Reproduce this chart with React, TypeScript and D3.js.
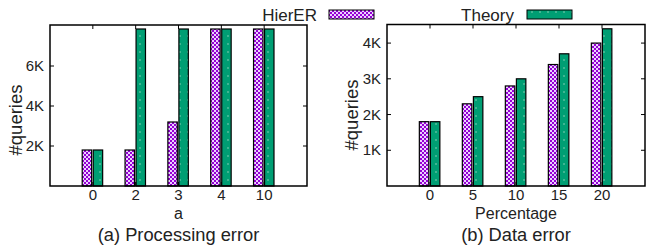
import React from "react";
import * as d3 from "d3";

// panel (a): processing error
const catsA = ["0", "2", "3", "4", "10"];
const hierA = [1800, 1800, 3200, 7850, 7850];
const theoryA = [1800, 7850, 7850, 7850, 7850];
const ticksA = [2000, 4000, 6000];

// panel (b): data error
const catsB = ["0", "5", "10", "15", "20"];
const hierB = [1800, 2300, 2800, 3400, 4000];
const theoryB = [1800, 2500, 3000, 3700, 4400];
const ticksB = [1000, 2000, 3000, 4000];

const PURPLE = "#9400d3";
const GREEN = "#009e73";
const FONT = "'Liberation Sans', Arial, Helvetica, sans-serif";

function Panel({ left, right, top, bottom, yMax, cats, hier, theory, ticks, xlabel, caption, ylabelX, ylabelY }) {
  const x = d3.scaleLinear().domain([-1, 5]).range([left, right]);
  const y = d3.scaleLinear().domain([0, yMax]).range([bottom, top]);
  const bw = x(0.22) - x(0);
  const mid = (left + right) / 2;
  return (
    <g fontFamily={FONT} fill="#222">
      {cats.map((c, i) => (
        <g key={c}>
          <rect x={x(i) - bw - 1.2} y={y(hier[i])} width={bw} height={bottom - y(hier[i])}
            fill="url(#pPurple)" stroke="#000" strokeWidth={1.2} />
          <rect x={x(i) + 0.4} y={y(theory[i])} width={bw} height={bottom - y(theory[i])}
            fill="url(#pGreen)" stroke="#000" strokeWidth={1.2} />
          <line x1={x(i)} x2={x(i)} y1={bottom} y2={bottom - 4} stroke="#000" />
          <line x1={x(i)} x2={x(i)} y1={top} y2={top + 4} stroke="#000" />
          <text x={x(i)} y={bottom + 14} textAnchor="middle" fontSize={15}>{c}</text>
        </g>
      ))}
      {ticks.map((t) => (
        <g key={t}>
          <line x1={left} x2={left + 4} y1={y(t)} y2={y(t)} stroke="#000" />
          <line x1={right} x2={right - 4} y1={y(t)} y2={y(t)} stroke="#000" />
          <text x={left - 6} y={y(t) + 5} textAnchor="end" fontSize={15}>{t / 1000 + "K"}</text>
        </g>
      ))}
      <rect x={left} y={top} width={right - left} height={bottom - top} fill="none" stroke="#000" strokeWidth={1.5} />
      <text transform={`translate(${ylabelX},${ylabelY}) rotate(-90)`} textAnchor="middle" fontSize={18.5}>#queries</text>
      <text x={mid} y={bottom + 33} textAnchor="middle" fontSize={16}>{xlabel}</text>
      <text x={mid} y={bottom + 55} textAnchor="middle" fontSize={18.3}>{caption}</text>
    </g>
  );
}

export default function App() {
  return (
    <svg width={647} height={248} style={{ position: "absolute", left: 0, top: 0 }}>
      <defs>
        <pattern id="pPurple" width={4} height={4} patternUnits="userSpaceOnUse">
          <rect width={4} height={4} fill={PURPLE} />
          <rect x={0} y={0} width={2} height={2} fill="#ecd0ff" />
          <rect x={2} y={2} width={2} height={2} fill="#ecd0ff" />
        </pattern>
        <pattern id="pGreen" width={8} height={8} patternUnits="userSpaceOnUse">
          <rect width={8} height={8} fill={GREEN} />
          <rect x={3} y={3} width={2} height={2} fill="#3fb592" />
        </pattern>
      </defs>
      <rect width={647} height={248} fill="#fff" />
      <Panel left={50} right={307} top={25} bottom={186} yMax={8050}
        cats={catsA} hier={hierA} theory={theoryA} ticks={ticksA}
        xlabel="a" caption="(a) Processing error" ylabelX={22} ylabelY={120} />
      <Panel left={387} right={645} top={24.5} bottom={186} yMax={4520}
        cats={catsB} hier={hierB} theory={theoryB} ticks={ticksB}
        xlabel="Percentage" caption="(b) Data error" ylabelX={358} ylabelY={115} />
      <g fontFamily={FONT} fill="#222" fontSize={17}>
        <text x={317} y={21} textAnchor="end">HierER</text>
        <rect x={329} y={10} width={45} height={9} fill="url(#pPurple)" stroke="#000" strokeWidth={1} />
        <text x={514} y={21} textAnchor="end">Theory</text>
        <rect x={527} y={10} width={45} height={9} fill="url(#pGreen)" stroke="#000" strokeWidth={1} />
      </g>
    </svg>
  );
}
